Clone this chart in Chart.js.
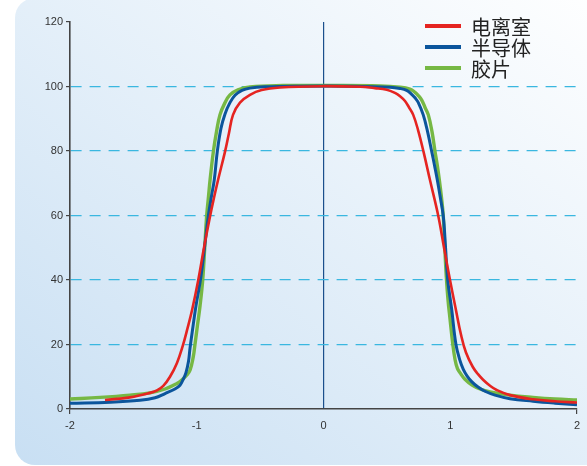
<!DOCTYPE html>
<html>
<head>
<meta charset="utf-8">
<script src="https://cdn.jsdelivr.net/npm/chart.js@4.4.0/dist/chart.umd.min.js"></script>
<style>
  body { margin: 0; background: #fff; }
  #marco { position: relative; width: 587px; height: 466px; overflow: hidden; }
  #panel {
    position: absolute; left: 15px; top: -2px; width: 600px; height: 467px;
    border-radius: 20px;
    background: linear-gradient(to top right, #c8dff3, #ffffff);
  }
  #grafico { position: absolute; left: 0; top: 0; }
</style>
</head>
<body>
<div id="marco">
  <div id="panel"></div>
  <canvas id="grafico" width="587" height="466"></canvas>
</div>
<script>
// ======================
// Perfil de dosis: 电离室 / 半导体 / 胶片
// ======================

const etiquetas = ["电离室", "半导体", "胶片"];
const colores = ["#e52421", "#0b559c", "#76b844"];

// 电离室
const rojoX = [-1.724, -1.527, -1.369, -1.314, -1.264, -1.211, -1.156, -1.111, -1.073, -1.035, -0.988, -0.943, -0.895, -0.864, -0.832, -0.777, -0.746, -0.714, -0.659, -0.58, -0.488, -0.343, -0.02, 0.288, 0.406, 0.499, 0.564, 0.604, 0.643, 0.675, 0.708, 0.746, 0.789, 0.84, 0.906, 0.951, 0.998, 1.041, 1.085, 1.124, 1.177, 1.219, 1.261, 1.314, 1.366, 1.471, 1.653, 1.826, 2.0];
const rojoY = [2.8, 3.6, 5.0, 5.8, 7.2, 10.0, 14.3, 19.5, 25, 31, 40, 50, 59.8, 65.5, 71, 79.8, 85.5, 91.2, 95, 97.4, 98.9, 99.7, 100.1, 99.9, 99.5, 99.0, 98.0, 97.0, 95.5, 93.5, 91.2, 86.5, 79.8, 71, 59.8, 50, 40, 31.5, 23, 17.5, 13.1, 10.8, 9.0, 7.2, 5.9, 4.3, 3.0, 2.4, 2.0];

// 半导体
const azulX = [-2.0, -1.684, -1.448, -1.329, -1.25, -1.172, -1.132, -1.109, -1.085, -1.065, -1.053, -1.03, -1.006, -0.969, -0.939, -0.909, -0.884, -0.862, -0.838, -0.809, -0.777, -0.738, -0.698, -0.643, -0.58, -0.462, -0.185, 0.209, 0.525, 0.604, 0.656, 0.698, 0.722, 0.748, 0.787, 0.821, 0.854, 0.876, 0.898, 0.922, 0.945, 0.963, 0.98, 1.011, 1.045, 1.077, 1.103, 1.132, 1.169, 1.219, 1.274, 1.353, 1.471, 1.653, 1.826, 2.0];
const azulY = [1.8, 2.1, 2.7, 3.5, 4.8, 6.2, 7.4, 9.0, 11.3, 14.8, 18.9, 25.5, 32, 40.5, 50, 59.8, 66, 71, 79.8, 87, 91.5, 95, 97.3, 98.8, 99.5, 99.9, 100.1, 100.1, 99.8, 99.4, 98.8, 97.5, 96.5, 95, 91.2, 86, 79.8, 75.5, 71, 65.5, 59.8, 50, 40, 31, 20, 15, 12.3, 10.3, 8.5, 6.8, 5.5, 4.3, 3.2, 2.4, 1.8, 1.3];

// 胶片
const verdeX = [-2.0, -1.763, -1.527, -1.369, -1.25, -1.172, -1.132, -1.079, -1.053, -1.027, -1.014, -0.994, -0.974, -0.953, -0.937, -0.922, -0.907, -0.895, -0.869, -0.844, -0.817, -0.777, -0.738, -0.675, -0.58, -0.32, -0.02, 0.446, 0.604, 0.682, 0.722, 0.748, 0.775, 0.801, 0.827, 0.856, 0.88, 0.898, 0.914, 0.931, 0.945, 0.957, 0.969, 0.982, 0.998, 1.019, 1.037, 1.057, 1.085, 1.116, 1.172, 1.235, 1.314, 1.471, 1.653, 1.826, 2.0];
const verdeY = [3.1, 3.6, 4.3, 5.0, 6.2, 7.6, 8.5, 10.5, 12.0, 16.3, 20, 26, 32, 40, 50, 59.8, 66, 71, 79.8, 86, 91.2, 95, 97.4, 99.0, 99.9, 100.3, 100.3, 100.2, 99.8, 99.2, 98.2, 97.2, 95.8, 93.5, 91.2, 86, 79.8, 75.5, 71, 65.5, 59.8, 50, 41, 34, 28, 20.5, 15.5, 12.5, 10.8, 9.2, 7.4, 6.2, 5.3, 4.3, 3.6, 3.1, 2.8];

const ejeXTicks = [-2, -1, 0, 1, 2];
const ejeYTicks = [0, 20, 40, 60, 80, 100, 120];

function puntos(xs, ys) {
  return xs.map((x, i) => ({ x, y: ys[i] }));
}

const series = [puntos(rojoX, rojoY), puntos(azulX, azulY), puntos(verdeX, verdeY)];
const grosores = [2.6, 3, 3.4];

// Leyenda dibujada dentro del área
const leyenda = {
  id: "leyenda",
  afterDraw(chart) {
    const ctx = chart.ctx;
    chart.data.datasets.forEach((ds, i) => {
      const y = 26 + i * 21;
      ctx.save();
      ctx.strokeStyle = ds.borderColor;
      ctx.lineWidth = 4;
      ctx.beginPath();
      ctx.moveTo(425, y);
      ctx.lineTo(461, y);
      ctx.stroke();
      ctx.fillStyle = "#222";
      ctx.font = '20px "Noto Sans CJK SC"';
      ctx.textBaseline = "middle";
      ctx.fillText(ds.label, 471, y + 1);
      ctx.restore();
    });
  },
};

const fuente = { family: "'Liberation Sans', Arial, sans-serif", size: 11 };

new Chart(document.getElementById("grafico"), {
  type: "line",
  data: {
    datasets: series.map((d, i) => ({
      label: etiquetas[i],
      data: d,
      borderColor: colores[i],
      borderWidth: grosores[i],
      pointRadius: 0,
      tension: 0.4,
      fill: false,
    })),
  },
  options: {
    responsive: false,
    animation: false,
    layout: { padding: { top: 22, right: 10, left: 0, bottom: 0 } },
    plugins: { legend: { display: false }, tooltip: { enabled: false } },
    scales: {
      x: {
        type: "linear",
        min: -2,
        max: 2,
        afterFit: (s) => { s.height = 57; },
        afterBuildTicks: (s) => { s.ticks = ejeXTicks.map((v) => ({ value: v })); },
        ticks: { color: "#333", font: fuente, padding: 5, maxRotation: 0 },
        grid: {
          color: (c) => (c.tick && c.tick.value === 0 ? "#1b4f8c" : "transparent"),
          lineWidth: 1.2,
          tickColor: (c) => (c.tick && Math.abs(c.tick.value) === 2 ? "#444" : "transparent"),
          tickLength: 5,
        },
        border: { display: true, color: "#444", width: 1.6 },
      },
      y: {
        min: 0,
        max: 120,
        afterFit: (s) => { s.width = 70; },
        afterBuildTicks: (s) => { s.ticks = ejeYTicks.map((v) => ({ value: v })); },
        ticks: { color: "#333", font: fuente, padding: 3 },
        grid: {
          color: (c) => (c.tick && c.tick.value > 0 && c.tick.value < 120 ? "#3ab7e0" : "transparent"),
          lineWidth: 1.2,
          tickColor: "#444",
          tickLength: 4,
          tickBorderDash: [],
        },
        border: { display: true, color: "#444", width: 1.6, dash: [11, 8] },
      },
    },
  },
  plugins: [leyenda],
});
</script>
</body>
</html>
